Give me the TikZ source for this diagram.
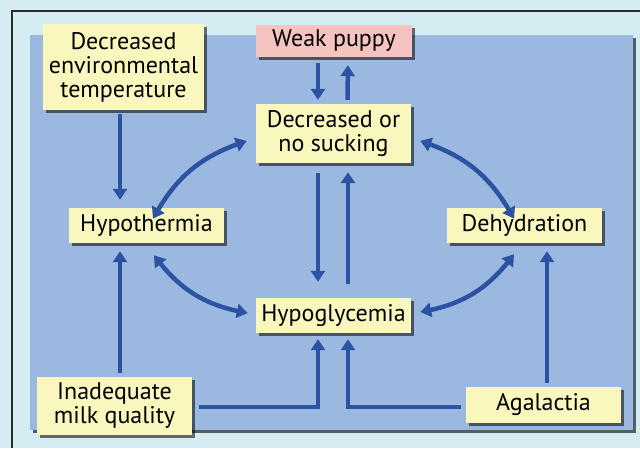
\documentclass[tikz,border=0pt]{standalone}
\usepackage{fontspec}
\setmainfont{PT Sans}
\usetikzlibrary{arrows.meta,bending,shadows}
\definecolor{bgc}{RGB}{213,236,243}
\definecolor{panelc}{RGB}{155,185,224}
\definecolor{boxc}{RGB}{250,247,190}
\definecolor{pinkc}{RGB}{246,196,192}
\definecolor{arrc}{RGB}{44,82,163}
\definecolor{framec}{RGB}{45,45,45}
\tikzset{
  boxst/.style={fill=boxc, inner sep=0pt, align=center, font=\fontsize{24}{24}\selectfont,
    drop shadow={shadow xshift=3pt, shadow yshift=-3pt, fill=black, opacity=0.55}},
  arr/.style={draw=arrc, line width=4.5pt, -{Triangle[width=14pt,length=11pt,bend]}},
  darr/.style={draw=arrc, line width=4.5pt, {Triangle[width=14pt,length=11pt,bend]}-{Triangle[width=14pt,length=11pt,bend]}}
}
\begin{document}
\begin{tikzpicture}[x=1pt,y=-1pt]
\useasboundingbox (0,0) rectangle (640,448);
\fill[bgc] (0,0) rectangle (640,448);
\draw[framec, line width=2pt] (12,448) -- (12,11) -- (640,11);
\fill[panelc, drop shadow={shadow xshift=3pt, shadow yshift=-3pt, fill=black, opacity=0.6}] (30,35) rectangle (633,430);

\node[boxst, minimum width=161pt, minimum height=86pt] (dec) at (123.5,67) {Decreased\\environmental\\temperature};
\node[boxst, fill=pinkc, minimum width=156pt, minimum height=32pt] (weak) at (334,41) {Weak puppy};
\node[boxst, minimum width=155pt, minimum height=59pt] (suck) at (333.5,133.5) {Decreased or\\no sucking};
\node[boxst, minimum width=155pt, minimum height=35pt] (hypo) at (146.5,225.5) {Hypothermia};
\node[boxst, minimum width=155pt, minimum height=35pt] (dehy) at (524.5,225.5) {Dehydration};
\node[boxst, minimum width=155pt, minimum height=35pt] (glyc) at (333.5,315.5) {Hypoglycemia};
\node[boxst, minimum width=155pt, minimum height=58pt] (milk) at (114.5,406) {Inadequate\\milk quality};
\node[boxst, minimum width=155pt, minimum height=36pt] (agal) at (543.5,405) {Agalactia};

% straight arrows
\draw[arr, shorten <=4pt, shorten >=8pt] ([xshift=-3.5pt]dec.south) -- ([xshift=-3.5pt]dec.south |- hypo.north);
\draw[arr, shorten <=6pt, shorten >=4pt] ([xshift=-16pt]weak.south) -- ([xshift=-16pt]weak.south |- suck.north);
\draw[arr, shorten <=4pt, shorten >=8pt] ([xshift=14pt]suck.north) -- ([xshift=14pt]weak.south);
\draw[arr, shorten <=10pt, shorten >=16pt] ([xshift=-15.5pt]suck.south) -- ([xshift=-15.5pt]glyc.north);
\draw[arr, shorten <=14pt, shorten >=9pt] ([xshift=14.5pt]glyc.north) -- ([xshift=14.5pt]suck.south);
\draw[arr, shorten <=4pt, shorten >=8pt] ([xshift=5.5pt]milk.north) -- ([xshift=5.5pt]milk.north |- hypo.south);
\draw[arr, shorten <=4pt, shorten >=8pt] ([xshift=3.5pt]agal.north) -- ([xshift=3.5pt]agal.north |- dehy.south);
\draw[arr, shorten >=6pt] ([xshift=7pt,yshift=-1pt]milk.east) -- ([xshift=-15.5pt, yshift=-1pt]glyc.south |- milk.east) -- ([xshift=-15.5pt]glyc.south);
\draw[arr, shorten >=6pt] ([xshift=-5pt,yshift=-2pt]agal.west) -- ([xshift=14.5pt,yshift=-2pt]glyc.south |- agal.west) -- ([xshift=14.5pt]glyc.south);

% curved double arrows
\draw[darr] ([shift={(6.5pt,-11pt)}]hypo.north) to[bend left=22] ([xshift=-9pt,yshift=-7.5pt]suck.west);
\draw[darr] ([xshift=9pt,yshift=-7.5pt]suck.east) to[bend left=22] ([shift={(-10.5pt,-11pt)}]dehy.north);
\draw[darr] ([shift={(7.5pt,-12pt)}]hypo.south) to[bend right=22] ([xshift=-8pt,yshift=2.5pt]glyc.west);
\draw[darr] ([xshift=9pt,yshift=3.5pt]glyc.east) to[bend right=22] ([shift={(-10.5pt,-11pt)}]dehy.south);
\end{tikzpicture}
\end{document}
